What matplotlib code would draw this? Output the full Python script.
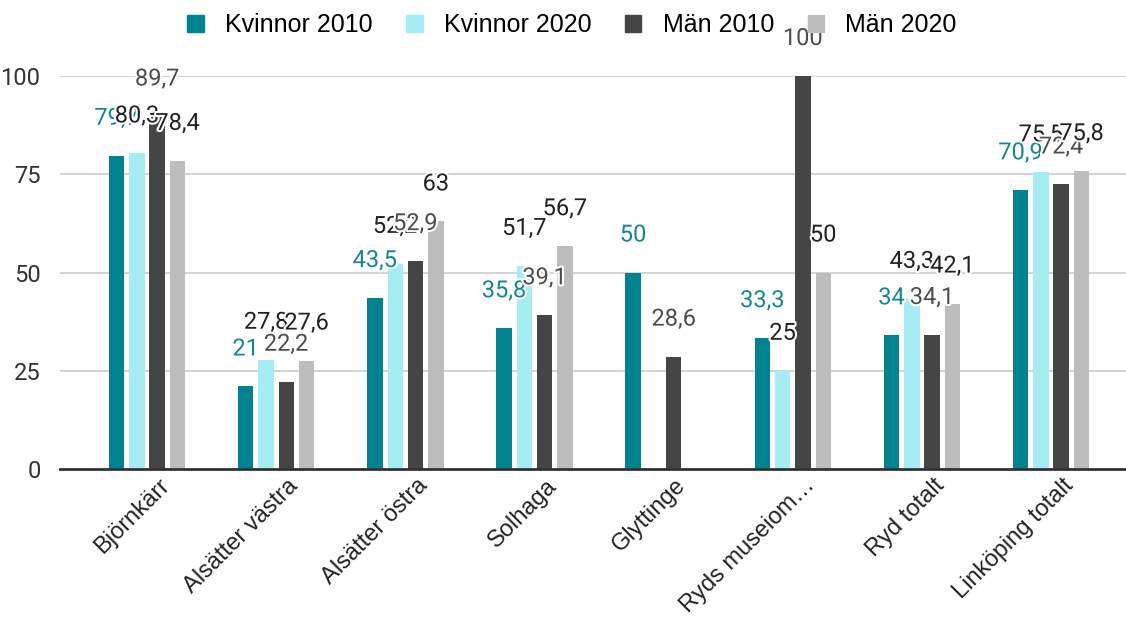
import numpy as np
import matplotlib
matplotlib.use("Agg")
import matplotlib.pyplot as plt
import matplotlib.patheffects as pe
import matplotlib.transforms as mtransforms
from matplotlib.patches import Patch

plt.rcParams['font.family'] = ['Roboto', 'DejaVu Sans']

categories = ["Björnkärr", "Alsätter västra", "Alsätter östra", "Solhaga",
              "Glyttinge", "Ryds museiom…", "Ryd totalt", "Linköping totalt"]
kvinnor_2010 = [79.7, 21, 43.5, 35.8, 50, 33.3, 34, 70.9]
kvinnor_2020 = [80.3, 27.8, 52.2, 51.7, np.nan, 25, 43.3, 75.5]
man_2010 = [89.7, 22.2, 52.9, 39.1, 28.6, 100, 34.1, 72.4]
man_2020 = [78.4, 27.6, 63, 56.7, np.nan, 50, 42.1, 75.8]
series_names = ["Kvinnor 2010", "Kvinnor 2020", "Män 2010", "Män 2020"]
yticks = [0, 25, 50, 75, 100]

series = [kvinnor_2010, kvinnor_2020, man_2010, man_2020]
colors = ["#00838f", "#a5ecf3", "#454545", "#bdbdbd"]
label_colors = ["#12878f", "#212121", "#4d4d4d", "#212121"]

fig = plt.figure(figsize=(11.26, 6.21), dpi=100)
ax = fig.add_axes([60/1126, 1-469/621, 1066/1126, (469-76)/621])

x = np.arange(len(categories))
offsets = [-0.236, -0.078, 0.078, 0.236]
width = 0.12
for vals, off, c, lc, name in zip(series, offsets, colors, label_colors, series_names):
    v = np.array(vals, dtype=float)
    mask = ~np.isnan(v)
    ax.bar(x[mask] + off, v[mask], width=width, color=c, zorder=3, label=name)
    for xi, vi in zip(x[mask] + off, v[mask]):
        txt = f"{vi:g}".replace(".", ",")
        ax.annotate(txt, (xi, vi), xytext=(0, 27), textcoords="offset points",
                    ha="center", va="center", fontsize=17, color=lc, zorder=5,
                    annotation_clip=False,
                    path_effects=[pe.withStroke(linewidth=3, foreground="white")])

ax.set_ylim(0, 100)
ax.set_xlim(-0.674, 7.58)
ax.set_yticks(yticks)
ax.set_yticklabels([str(t) for t in yticks], fontsize=17, color="#333333")
ax.yaxis.grid(True, color="#cccccc", linewidth=1.2, zorder=0)
ax.tick_params(axis="y", length=0, pad=14)
ax.tick_params(axis="x", length=0, pad=4)
ax.set_xticks(x)
ax.set_xticklabels(categories, rotation=45, ha="right", rotation_mode="anchor",
                   fontsize=17, color="#222222", family=["Liberation Sans", "DejaVu Sans"])
shift = mtransforms.ScaledTranslation(11/100, 0, fig.dpi_scale_trans)
for lbl in ax.get_xticklabels():
    lbl.set_transform(lbl.get_transform() + shift)
for s in ["top", "right", "left"]:
    ax.spines[s].set_visible(False)
ax.spines["bottom"].set_color("#333333")
ax.spines["bottom"].set_linewidth(2)
ax.spines["bottom"].set_zorder(4)

handles = [Patch(facecolor=c, edgecolor=c) for c in colors]
fig.legend(handles, series_names, loc="center", bbox_to_anchor=(572/1126, 1-25/621),
           ncol=4, frameon=False, handlelength=0.65, handleheight=0.65,
           columnspacing=1.35, handletextpad=0.85,
           prop={"family": ["Liberation Sans", "DejaVu Sans"], "size": 18})

fig.savefig("out.png", dpi=100)
